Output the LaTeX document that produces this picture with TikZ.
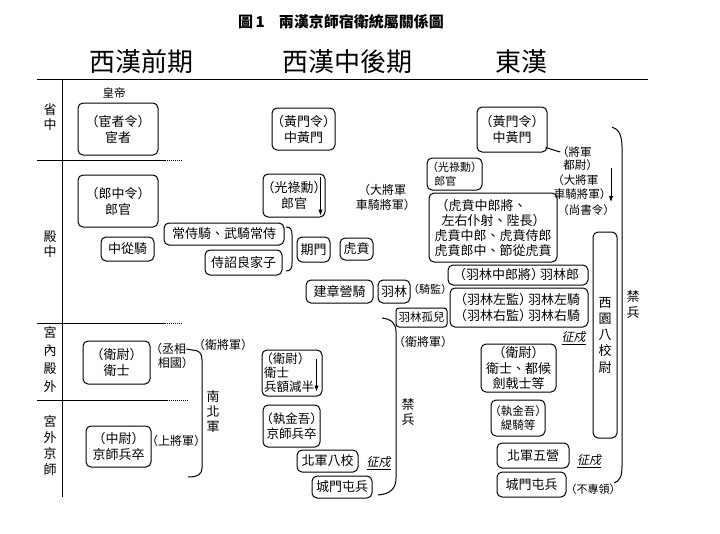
\documentclass[tikz,border=0pt]{standalone}
\usepackage{fontspec}
\setmainfont{Noto Sans CJK TC}
\newfontfamily\cjkit[FakeSlant=0.2]{Noto Sans CJK TC}
\usetikzlibrary{arrows.meta}
\newcommand\lp{\makebox[0.7em][r]{（}}
\newcommand\rp{\makebox[0.7em][l]{）}}
\tikzset{
  bx/.style={draw, rounded corners=5pt, line width=1pt, inner sep=0pt, align=center, font=\fontsize{13}{16}\selectfont},
  lbl/.style={inner sep=0pt, align=center, font=\fontsize{12}{15}\selectfont},
  side/.style={inner sep=0pt, align=center, font=\fontsize{13}{15}\selectfont},
  hdr/.style={inner sep=0pt, font=\fontsize{26}{30}\selectfont},
  zs/.style={inner sep=0pt, font=\cjkit\fontsize{12}{14}\selectfont},
  ln/.style={line width=1pt},
  dotl/.style={line width=0.9pt, dash pattern=on 1pt off 1pt},
  arr/.style={line width=0.9pt, -{Latex[length=6pt,width=4.5pt]}},
}
\begin{document}
\begin{tikzpicture}[x=1pt,y=-1pt]
\useasboundingbox[fill=white] (0,0) rectangle (720,533);

% title and headers
\node[inner sep=0pt, font=\bfseries\fontsize{15}{18}\selectfont] (title) at (341,22) {圖\,1\hspace{14pt}兩漢京師宿衛統屬關係圖};
\node[hdr] (h1) at (141,62) {西漢前期};
\node[hdr] (h2) at (347,62) {西漢中後期};
\node[hdr] (h3) at (521,62) {東漢};

% frame rules
\draw[ln] (37,79) -- (648,79);
\draw[ln] (62,79) -- (62,497);
\draw[ln] (37,160) -- (165,160);
\draw[dotl] (165,160) -- (183,160);
\draw[ln] (37,323) -- (165,323);
\draw[dotl] (165,323) -- (183,323);
\draw[ln] (37,400) -- (167,400);
\draw[dotl] (167,400) -- (188,400);

% side labels
\node[side, font=\fontsize{13}{15}\selectfont] (s1) at (50,117.5) {省\\中};
\node[side, font=\fontsize{13}{15}\selectfont] (s2) at (50,244.5) {殿\\中};
\node[side, font=\fontsize{13}{18}\selectfont] (s3) at (50,360) {宮\\內\\殿\\外};
\node[side, font=\fontsize{13}{16}\selectfont] (s4) at (50,446) {宮\\外\\京\\師};

% ---- West: 西漢前期
\node[lbl, font=\fontsize{11.5}{14}\selectfont] (hd) at (114,93) {皇帝};
\node[bx, minimum width=80, minimum height=52] (w1) at (118,129) {\lp 宦者令\rp\\宦者};
\node[bx, minimum width=80, minimum height=52] (w2) at (118,201) {\lp 郎中令\rp\\郎官};
\node[bx, minimum width=53, minimum height=24] (w3) at (127.5,249) {中從騎};
\node[bx, minimum width=120, minimum height=22] (w4) at (224,234) {常侍騎、武騎常侍};
\node[bx, minimum width=77, minimum height=25] (w5) at (243.5,262.5) {侍詔良家子};
\draw[ln] (286,227) .. controls (291,227) and (292,230) .. (292,235) -- (292,263) .. controls (292,268) and (291,271) .. (286,271);
\node[bx, minimum width=67, minimum height=43] (w6) at (116.5,362.5) {\lp 衛尉\rp\\衛士};
\node[bx, minimum width=65, minimum height=41] (w7) at (118.5,446.5) {\lp 中尉\rp\\京師兵卒};
\node[lbl] (wq1) at (170,349) {\lp 丞相};
\node[lbl] (wq2) at (174,363) {相國\rp};
\node[lbl] (ww) at (223,345) {\lp 衛將軍\rp};
\node[lbl] (ws) at (176,441) {\lp 上將軍\rp};
\node[side] (wnb) at (213,412) {南\\北\\軍};
\draw[ln] (wq1.east) -- (192,350) .. controls (199,350) and (202,353) .. (202,360) -- (202,468) .. controls (202,474) and (198,477) .. (188,477);

% ---- Middle: 西漢中後期
\node[bx, minimum width=63, minimum height=42] (m1) at (303.5,129) {\lp 黃門令\rp\\中黃門};
\node[bx, minimum width=62, minimum height=43] (m2) at (294,195.5) {\lp 光祿勳\rp\\郎官};
\draw[arr] ([xshift=-5pt,yshift=-3pt]m2.north east) -- ([xshift=-5pt,yshift=2pt]m2.south east);
\node[bx, minimum width=33, minimum height=25] (m3) at (313.5,249.5) {期門};
\node[bx, minimum width=33, minimum height=22] (m4) at (356.5,249) {虎賁};
\node[lbl] (mda) at (384,197.5) {\lp 大將軍\\車騎將軍\rp};
\node[bx, minimum width=67, minimum height=23] (m5) at (339.5,291.5) {建章營騎};
\node[bx, minimum width=32, minimum height=23] (m6) at (394,291.5) {羽林};
\node[lbl, font=\fontsize{11}{13}\selectfont] (mjj) at (430,289) {\lp 騎監\rp};
\node[bx, rounded corners=3pt, minimum width=51, minimum height=19, font=\fontsize{11.5}{14}\selectfont] (m7) at (421.5,317.5) {羽林孤兒};
\draw[ln] (382,318) .. controls (391,319) and (396,323) .. (396,332) -- (396,478) .. controls (396,488) and (391,494) .. (378,495);
\node[lbl] (mwj) at (423,342) {\lp 衛將軍\rp};
\node[side] (mjb) at (408,412.5) {禁\\兵};
\node[bx, minimum width=60, minimum height=46, align=left, font=\fontsize{12.5}{14}\selectfont] (m8) at (292,373) {\lp 衛尉\rp\\衛士\\兵額減半\hspace*{6pt}};
\draw[arr] ([xshift=-6pt,yshift=-9pt]m8.north east) -- ([xshift=-6pt,yshift=5pt]m8.south east);
\node[bx, minimum width=57, minimum height=42, font=\fontsize{12.5}{15}\selectfont] (m9) at (291.5,426) {\lp 執金吾\rp\\京師兵卒};
\node[bx, minimum width=61, minimum height=22] (m10) at (327.5,461) {北軍八校};
\node[zs] (mz) at (378.5,463) {\underline{征戍}};
\node[bx, minimum width=60, minimum height=22] (m11) at (342,487) {城門屯兵};

% ---- East: 東漢
\node[bx, minimum width=70, minimum height=45] (e1) at (512,129.5) {\lp 黃門令\rp\\中黃門};
\node[lbl, font=\fontsize{11.5}{14}\selectfont] (ej1) at (576,152) {\lp 將軍};
\node[lbl, font=\fontsize{11.5}{14}\selectfont] (ej2) at (579,165) {都尉\rp};
\node[lbl, font=\fontsize{11.5}{14}\selectfont] (ej3) at (577,180) {\lp 大將軍};
\node[lbl, font=\fontsize{11.5}{14}\selectfont] (ej4) at (581,194) {車騎將軍\rp};
\node[lbl, font=\fontsize{11.5}{14}\selectfont] (ej5) at (586,210) {\lp 尚書令\rp};
\draw[ln] ([xshift=-2pt,yshift=5pt]e1.south east) -- (ej1.west);
\coordinate (ea1) at (611,168);
\coordinate (ea2) at (611,202);
\draw[arr] (ea1) -- (ea2);
\node[bx, minimum width=55, minimum height=32, align=left, font=\fontsize{11}{14.5}\selectfont] (e2) at (454.5,174) {\lp 光祿勳\rp\\\hspace*{4pt}郎官};
\node[bx, minimum width=128, minimum height=69, align=left, font=\fontsize{13}{15}\selectfont] (e3) at (493,227.5) {\hspace*{5pt}\lp 虎賁中郎將、\\\hspace*{7pt}左右仆射、陛長\rp\\虎賁中郎、虎賁侍郎\\虎賁郎中、節從虎賁};
\node[bx, minimum width=140, minimum height=20] (e4) at (518,275) {\lp 羽林中郎將\rp 羽林郎};
\node[bx, minimum width=138, minimum height=39, font=\fontsize{13}{16}\selectfont] (e5) at (519,307.5) {\lp 羽林左監\rp 羽林左騎\\\lp 羽林右監\rp 羽林右騎};
\node[bx, minimum width=24, minimum height=206, font=\fontsize{13}{16.25}\selectfont] (e6) at (605,335) {西\\園\\八\\校\\尉};
\node[zs] (ez1) at (573.5,338) {\underline{征戍}};
\node[bx, minimum width=75, minimum height=48, font=\fontsize{13}{15.5}\selectfont] (e7) at (518.5,368) {\lp 衛尉\rp\\衛士、都候\\劍戟士等};
\node[bx, minimum width=54, minimum height=36, font=\fontsize{11.5}{14}\selectfont] (e8) at (518,418) {\lp 執金吾\rp\\緹騎等};
\node[bx, minimum width=72, minimum height=25] (e9) at (533,455.5) {北軍五營};
\node[zs] (ez2) at (589,461) {\underline{征戍}};
\node[bx, minimum width=69, minimum height=25] (e10) at (531.5,484.5) {城門屯兵};
\node[lbl, font=\fontsize{11}{13}\selectfont] (ebz) at (593,489) {\lp 不專領\rp};
\draw[ln] (612,127) .. controls (619,129) and (622,136) .. (622,147) -- (622,466) .. controls (622,476) and (620,481) .. (614,483);
\node[side, font=\fontsize{13}{16}\selectfont] (ejb) at (633,305) {禁\\兵};
\end{tikzpicture}
\end{document}
